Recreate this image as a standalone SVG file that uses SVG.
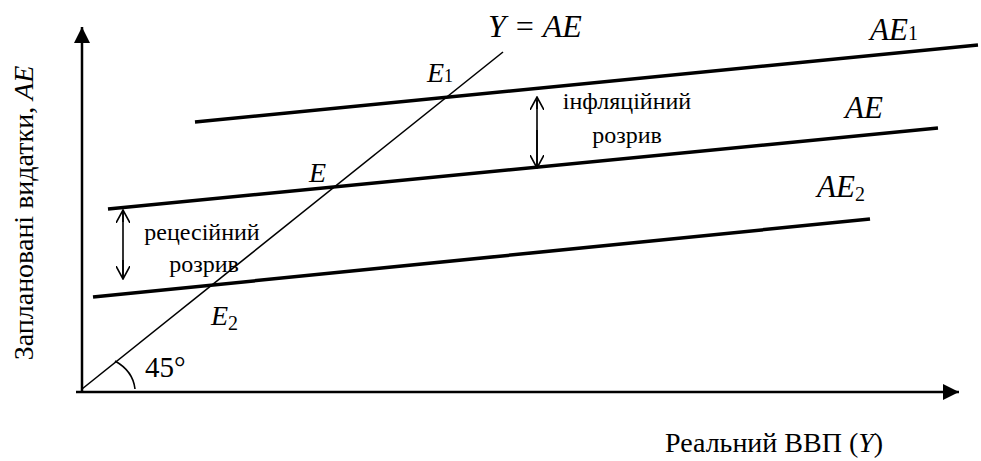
<svg xmlns="http://www.w3.org/2000/svg" width="981" height="461" viewBox="0 0 981 461">
<defs>
<marker id="tri" markerWidth="16" markerHeight="16" refX="16" refY="8" orient="auto" markerUnits="userSpaceOnUse"><path d="M0,0 L16,8 L0,16 Z" fill="#000"/></marker>
<marker id="v" markerWidth="14" markerHeight="14" refX="13" refY="7" orient="auto" markerUnits="userSpaceOnUse"><path d="M0,0 L13,7 L0,14" fill="none" stroke="#000" stroke-width="1.6"/></marker>
</defs>
<text x="870" y="40" font-size="31" font-family="Times New Roman" font-style="italic">AE<tspan font-style="normal" font-size="20">1</tspan></text>
<text x="845" y="118" font-size="31" font-family="Times New Roman" font-style="italic">AE</text>
<text x="817" y="197" font-size="31" font-family="Times New Roman" font-style="italic">AE<tspan font-style="normal" font-size="20" dy="4">2</tspan></text>
<text x="488" y="37" font-size="32" font-family="Times New Roman" font-style="italic">Y = AE</text>
<text x="427" y="82" font-size="28" font-family="Times New Roman" font-style="italic">E<tspan font-style="normal" font-size="18">1</tspan></text>
<text x="309" y="182" font-size="28" font-family="Times New Roman" font-style="italic">E</text>
<text x="211" y="325" font-size="28" font-family="Times New Roman" font-style="italic">E<tspan font-style="normal" font-size="20" dy="5">2</tspan></text>
<text x="145" y="377" font-size="29" font-family="Times New Roman">45°</text>
<text x="627" y="109" font-size="24" font-family="Times New Roman" text-anchor="middle">інфляційний</text>
<text x="627" y="143" font-size="24" font-family="Times New Roman" text-anchor="middle">розрив</text>
<text x="202" y="240" font-size="24" font-family="Times New Roman" text-anchor="middle">рецесійний</text>
<text x="204" y="272" font-size="24" font-family="Times New Roman" text-anchor="middle">розрив</text>
<text x="665" y="452" font-size="28" font-family="Times New Roman">Реальний ВВП (<tspan font-style="italic">Y</tspan>)</text>
<text transform="translate(33,213) rotate(-90)" font-size="28" font-family="Times New Roman" text-anchor="middle">Заплановані видатки, <tspan font-style="italic">AE</tspan></text>
<g id="connectors" stroke="#000" fill="none">
<g stroke-width="2.5">
<line x1="82" y1="392" x2="82" y2="27" marker-end="url(#tri)"/>
<line x1="76" y1="392" x2="959" y2="392" marker-end="url(#tri)"/>
</g>
<g stroke-width="1.6">
<line x1="82" y1="389" x2="503" y2="52"/>
<path d="M115,361 Q133,371 135,389"/>
<line x1="537" y1="109" x2="537" y2="97" marker-end="url(#v)"/>
<line x1="537" y1="130" x2="537" y2="168" marker-end="url(#v)"/>
<line x1="537" y1="100" x2="537" y2="166"/>
<line x1="123" y1="222" x2="123" y2="210" marker-end="url(#v)"/>
<line x1="123" y1="260" x2="123" y2="279" marker-end="url(#v)"/>
<line x1="123" y1="212" x2="123" y2="277"/>
</g>
</g>
<g id="AE1"><line stroke="#000" stroke-width="3.5" x1="195" y1="122" x2="978" y2="45"/></g>
<g id="AE"><line stroke="#000" stroke-width="3.5" x1="108" y1="209" x2="938" y2="128"/></g>
<g id="AE2"><line stroke="#000" stroke-width="3.5" x1="93" y1="297" x2="870" y2="219"/></g>
</svg>
